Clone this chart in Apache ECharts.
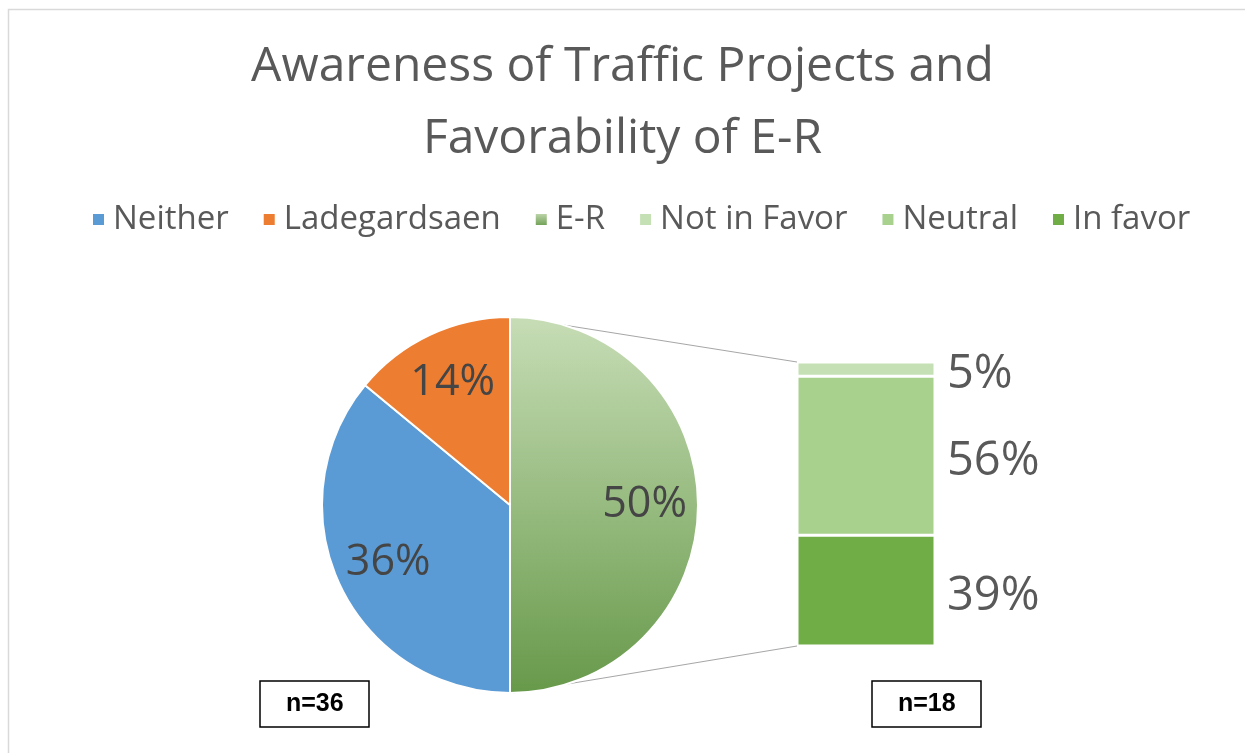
<!DOCTYPE html>
<html>
<head>
<meta charset="utf-8">
<script src="https://cdn.jsdelivr.net/npm/echarts@6/dist/echarts.min.js"></script>
<style>
html,body{margin:0;padding:0;background:#fff;}
#chart{width:1245px;height:753px;}
</style>
</head>
<body>
<div id="chart"></div>
<script>
// ---- data ----
const titleLines = ['Awareness of Traffic Projects and', 'Favorability of E-R'];
const pieNames = ['Neither', 'Ladegardsaen', 'E-R'];
const pieValues = [36, 14, 50];
const barNames = ['Not in Favor', 'Neutral', 'In favor'];
const barValues = [5, 56, 39];
const sampleLabels = ['n=36', 'n=18'];
const legendOrder = ['Neither', 'Ladegardsaen', 'E-R', 'Not in Favor', 'Neutral', 'In favor'];

// ---- style ----
const pieColors = {
  'Neither': '#5b9bd5',
  'Ladegardsaen': '#ed7d31',
  'E-R': new echarts.graphic.LinearGradient(0, 0, 0, 1, [
    { offset: 0, color: '#c7ddb6' },
    { offset: 1, color: '#67994a' }
  ])
};
const barColors = { 'Not in Favor': '#c5e0b4', 'Neutral': '#a9d18e', 'In favor': '#70ad47' };
const FONT = '"Open Sans", "Noto Sans", sans-serif';
const pieCenter = [510, 505];
const pieR = 188;
const barGrid = { left: 797, top: 362, width: 138, height: 284 };

const chart = echarts.init(document.getElementById('chart'), null, { renderer: 'canvas' });

const pieData = pieNames.map((n, i) => ({ value: pieValues[i], name: n, itemStyle: { color: pieColors[n] } }));

// stacked bar: bottom segment first
const stackOrder = barNames.slice().reverse();

const option = {
  backgroundColor: '#fff',
  animation: false,
  title: [
    {
      text: titleLines.join('\n'),
      left: 'center',
      top: 26,
      textStyle: { fontFamily: FONT, fontSize: 48, fontWeight: 'normal', color: '#595959', lineHeight: 72 }
    },
    {
      text: sampleLabels[0],
      left: 260, top: 681,
      padding: [10, 26],
      borderColor: '#000', borderWidth: 1.5,
      textStyle: { fontFamily: '"Liberation Sans", Arial, sans-serif', fontSize: 25, fontWeight: 'bold', color: '#000', lineHeight: 26 }
    },
    {
      text: sampleLabels[1],
      left: 872, top: 681,
      padding: [10, 26],
      borderColor: '#000', borderWidth: 1.5,
      textStyle: { fontFamily: '"Liberation Sans", Arial, sans-serif', fontSize: 25, fontWeight: 'bold', color: '#000', lineHeight: 26 }
    }
  ],
  legend: {
    data: legendOrder,
    top: 198,
    left: 86,
    icon: 'rect',
    itemWidth: 13,
    itemHeight: 13,
    itemGap: 33,
    textStyle: { fontFamily: FONT, fontSize: 33, color: '#595959', padding: [0, 0, 0, 3] }
  },
  grid: barGrid,
  xAxis: { type: 'category', data: ['E-R'], show: false },
  yAxis: { type: 'value', min: 0, max: 100, show: false },
  series: [
    {
      type: 'pie',
      center: pieCenter,
      radius: pieR,
      startAngle: 270,
      clockwise: true,
      data: pieData,
      itemStyle: { borderColor: '#fff', borderWidth: 2 },
      label: { show: false },
      labelLine: { show: false },
      emphasis: { disabled: true }
    },
    {
      type: 'pie',
      center: pieCenter,
      radius: [pieR * 0.4, pieR],
      startAngle: 270,
      clockwise: true,
      silent: true,
      data: pieNames.map((n, i) => ({ value: pieValues[i], name: n })),
      itemStyle: { color: 'rgba(0,0,0,0)' },
      label: {
        show: true, position: 'inside', formatter: '{c}%',
        fontFamily: FONT, fontSize: 43, color: '#454545'
      },
      labelLine: { show: false },
      emphasis: { disabled: true }
    }
  ].concat(stackOrder.map(n => ({
    type: 'bar',
    name: n,
    stack: 'er',
    data: [barValues[barNames.indexOf(n)]],
    barWidth: '100%',
    itemStyle: { color: barColors[n], borderColor: '#fff', borderWidth: 1.5 },
    label: {
      show: true, position: 'right', distance: 12, formatter: '{c}%',
      fontFamily: FONT, fontSize: 47, color: '#595959', offset: [0, 6]
    },
    emphasis: { disabled: true }
  })))
};

chart.setOption(option);

// connector lines from pie to bar, via the library's scales
const yTop = chart.convertToPixel({ yAxisIndex: 0 }, 100);
const yBot = chart.convertToPixel({ yAxisIndex: 0 }, 0);
const xCenter = chart.convertToPixel({ xAxisIndex: 0 }, 'E-R');
const barLeft = xCenter - barGrid.width / 2;
chart.setOption({
  graphic: [
    { type: 'rect', shape: { x: 8.5, y: 9.5, width: 1240, height: 760 }, style: { fill: 'none', stroke: '#d9d9d9', lineWidth: 1.5 }, silent: true, z: -1 },
    { type: 'line', shape: { x1: pieCenter[0] + 3, y1: pieCenter[1] - pieR, x2: barLeft, y2: yTop }, style: { stroke: '#a6a6a6', lineWidth: 1 }, silent: true },
    { type: 'line', shape: { x1: pieCenter[0] + 3, y1: pieCenter[1] + pieR, x2: barLeft, y2: yBot }, style: { stroke: '#a6a6a6', lineWidth: 1 }, silent: true }
  ]
});
</script>
</body>
</html>
